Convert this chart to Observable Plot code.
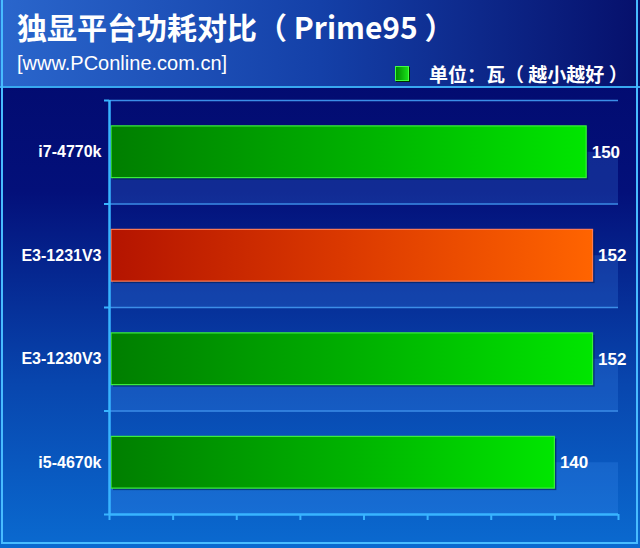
<!DOCTYPE html>
<html>
<head>
<meta charset="utf-8">
<script src="https://cdn.jsdelivr.net/npm/d3@7"></script>
<script src="https://cdn.jsdelivr.net/npm/@observablehq/plot@0.6"></script>
<style>
  html, body { margin: 0; padding: 0; background: #ffffff; }
  #chart {
    position: relative; width: 640px; height: 548px; overflow: hidden;
    background: linear-gradient(to bottom, #02086a 0%, #03107a 35%, #0846ae 70%, #0a6ad0 100%);
    font-family: "Liberation Sans", Arial, sans-serif;
  }
  #header {
    position: relative; height: 86px;
    background: linear-gradient(to right, #2a66cc 0%, #1440a8 50%, #06106c 100%);
    border-bottom: 2px solid #38a8f0;
    color: #fff;
  }
  #title {
    position: absolute; left: 17px; top: 4px;
    font: bold 30px "Noto Sans CJK SC", "Liberation Sans", sans-serif;
    white-space: nowrap;
  }
  #sub {
    position: absolute; left: 17px; top: 52px;
    font: 20px "Liberation Sans", Arial, sans-serif; white-space: nowrap;
  }
  #legend {
    position: absolute; left: 395px; top: 60px; white-space: nowrap;
    font: bold 19px "Noto Sans CJK SC", sans-serif; display: flex; align-items: center;
  }
  #legend .sw {
    width: 12px; height: 13px; margin-right: 20px;
    background: linear-gradient(to right, #008a00, #18e018);
    border: 1px solid #40ff40; box-shadow: 1px 1px 0 #003000;
  }
  #frame {
    position: absolute; left: 1px; top: -4px; width: 633px; height: 544px;
    border: 2px solid #48bcff; pointer-events: none;
  }
  svg { display: block; }
</style>
</head>
<body>
<div id="chart">
  <div id="header">
    <div id="title">独显平台功耗对比（ Prime95 ）</div>
    <div id="sub">[www.PConline.com.cn]</div>
    <div id="legend"><span class="sw"></span><span>单位：瓦（ 越小越好 ）</span></div>
  </div>
  <div id="plot"></div>
  <div id="frame"></div>
</div>
<script>
const categories = ["i7-4770k", "E3-1231V3", "E3-1230V3", "i5-4670k"];
const values = [150, 152, 152, 140];
const highlight = ["E3-1231V3"];
const xTicks = [0, 20, 40, 60, 80, 100, 120, 140, 160];

const data = categories.map((c, i) => ({cat: c, i, value: values[i],
  fill: highlight.includes(c) ? "url(#gRed)" : "url(#gGreen)",
  stroke: highlight.includes(c) ? "#ff7a50" : "#3cf03c"}));

const defs = () => {
  const d = d3.create("svg:defs");
  const g1 = d.append("linearGradient").attr("id", "gGreen").attr("x1", "0").attr("x2", "1").attr("y1", "0").attr("y2", "0");
  g1.append("stop").attr("offset", "0%").attr("stop-color", "#007e00");
  g1.append("stop").attr("offset", "55%").attr("stop-color", "#00b400");
  g1.append("stop").attr("offset", "100%").attr("stop-color", "#00e600");
  const g2 = d.append("linearGradient").attr("id", "gRed").attr("x1", "0").attr("x2", "1").attr("y1", "0").attr("y2", "0");
  g2.append("stop").attr("offset", "0%").attr("stop-color", "#b41400");
  g2.append("stop").attr("offset", "50%").attr("stop-color", "#dc3a00");
  g2.append("stop").attr("offset", "100%").attr("stop-color", "#ff6400");
  return d.node();
};

const cyan = "#38b4ff";

const chart = Plot.plot({
  width: 640,
  height: 460,
  marginTop: 12,
  marginBottom: 34,
  marginLeft: 109,
  marginRight: 22,
  style: {background: "transparent", overflow: "visible"},
  x: {domain: [0, 160], axis: null, label: null},
  y: {domain: [0, categories.length], reverse: true, axis: null, label: null},
  color: {type: "identity"},
  marks: [
    defs,
    Plot.rectX(data, {x1: 0, x2: 160, y1: d => d.i + 0.5, y2: d => d.i + 1, fill: "#4a9cff", fillOpacity: 0.2}),
    Plot.ruleY(d3.range(categories.length), {x1: 0, x2: 160, stroke: "#3c8ee8", strokeWidth: 1.5}),
    Plot.rectX(data, {x1: 0, x2: "value", y1: d => d.i + 0.25, y2: d => d.i + 0.75, dx: 2, dy: 2, insetLeft: 2, fill: "#001a50", fillOpacity: 0.6}),
    Plot.rectX(data, {x1: 0, x2: "value", y1: d => d.i + 0.25, y2: d => d.i + 0.75, insetLeft: 2, fill: "fill", stroke: "stroke", strokeWidth: 1.2}),
    Plot.text(data, {x: "value", y: d => d.i + 0.5, text: d => String(d.value), dx: 5, textAnchor: "start",
      fill: "white", fontSize: 17, fontWeight: "bold", fontFamily: "Liberation Sans, Arial, sans-serif"}),
    Plot.text(data, {x: 0, y: d => d.i + 0.5, text: "cat", dx: -8, textAnchor: "end",
      fill: "white", fontSize: 16, fontWeight: "bold", fontFamily: "Liberation Sans, Arial, sans-serif"}),
    Plot.ruleX([0], {y1: 0, y2: categories.length, stroke: cyan, strokeWidth: 2.5}),
    Plot.ruleY([categories.length], {x1: 0, x2: 160, stroke: cyan, strokeWidth: 2.5}),
    Plot.axisY({ticks: d3.range(categories.length + 1), tickFormat: () => "", tickSize: 5, stroke: cyan, strokeWidth: 2, label: null}),
    Plot.axisX({ticks: xTicks, tickFormat: () => "", tickSize: 6, stroke: cyan, strokeWidth: 2, label: null})
  ]
});
document.getElementById("plot").appendChild(chart);
</script>
</body>
</html>
